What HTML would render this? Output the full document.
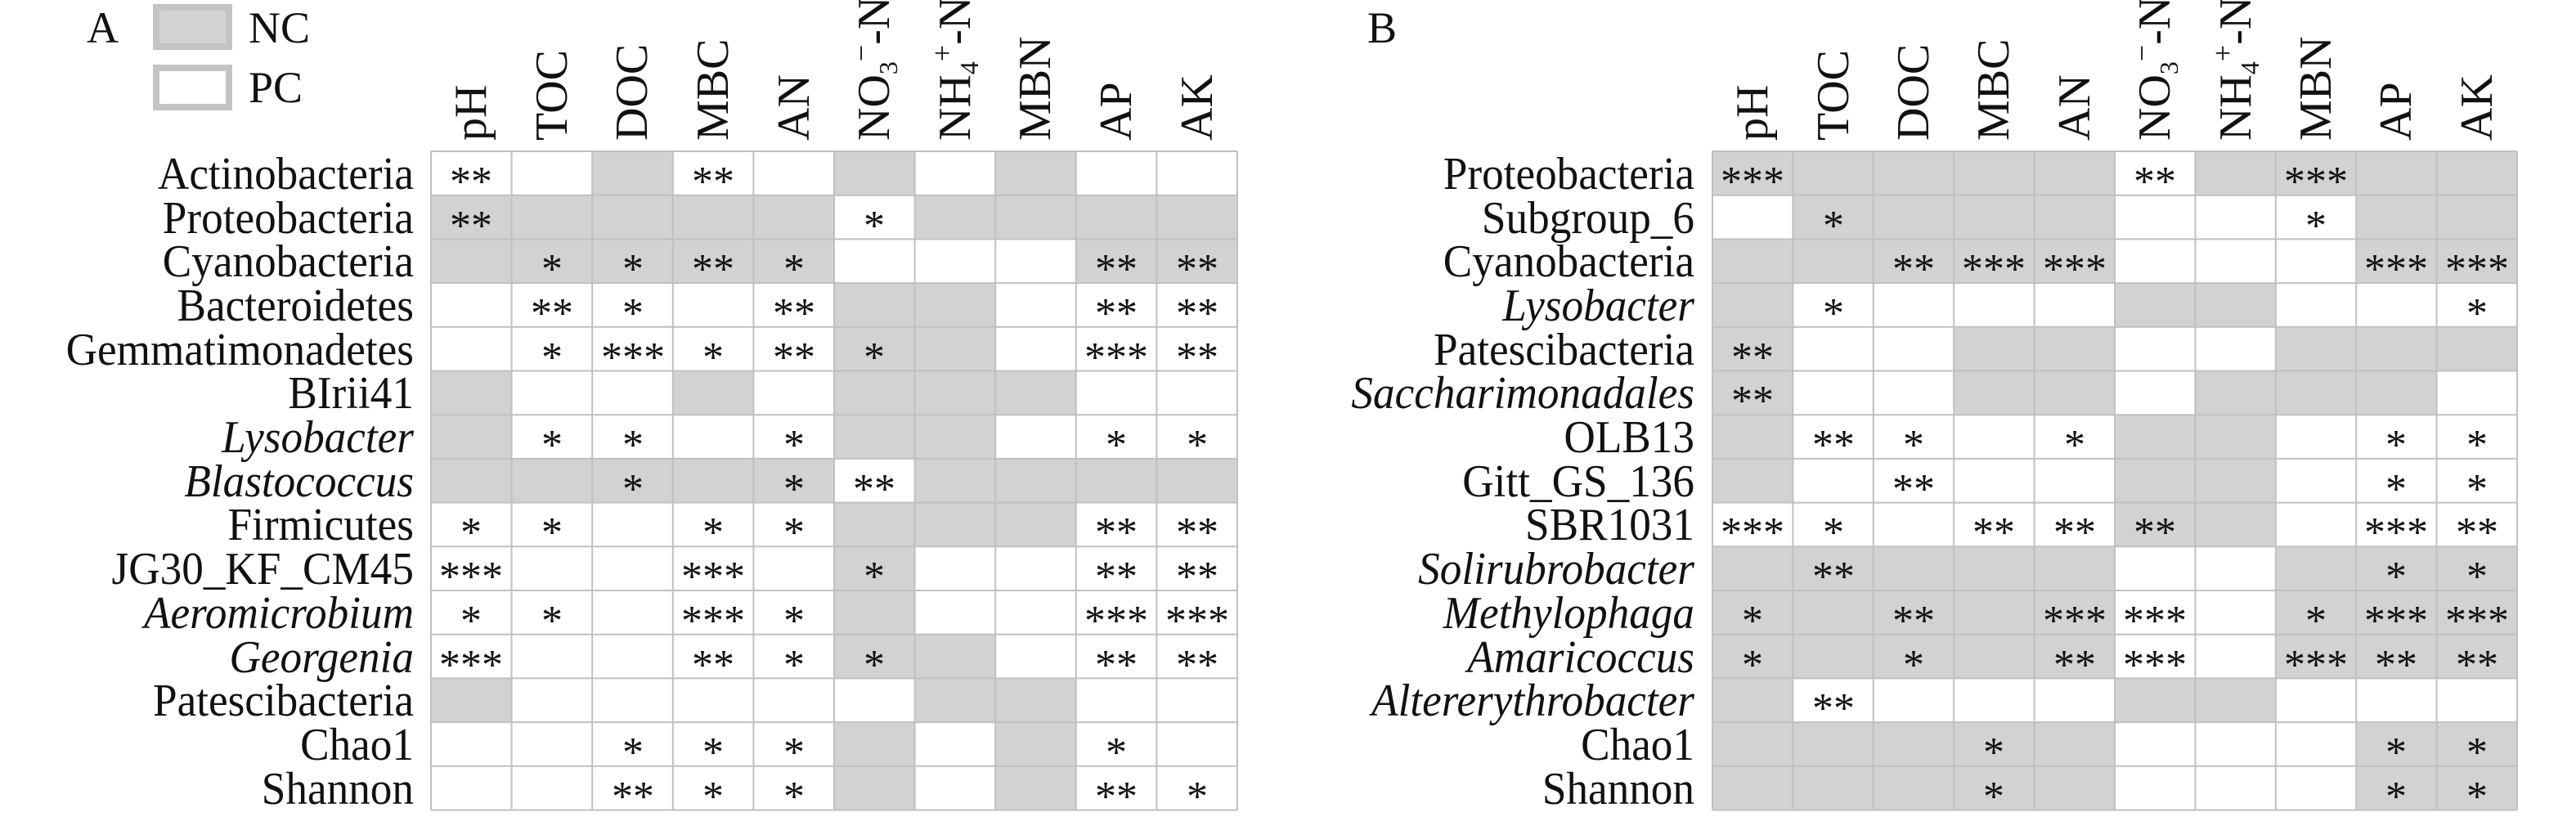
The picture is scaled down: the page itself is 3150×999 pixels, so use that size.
<!DOCTYPE html>
<html><head><meta charset="utf-8"><style>
html,body{margin:0;padding:0;background:#fff;}
svg{display:block;}
text{font-family:"Liberation Serif",serif;fill:#111;}
.lab{font-size:56px;text-anchor:end;}
.st{font-size:52px;text-anchor:middle;}
.hd{font-size:56px;}
.it{font-style:italic;}
.lg{font-size:54px;}
</style></head><body>
<svg width="3150" height="999" viewBox="0 0 3150 999" xmlns="http://www.w3.org/2000/svg">
<rect width="3150" height="999" fill="#fff"/>
<!-- Legend A -->
<text class="lg" x="106" y="52">A</text>
<rect x="191" y="9" width="89" height="48" fill="#d2d2d2" stroke="#c4c4c4" stroke-width="8"/>
<rect x="191" y="83" width="89" height="48" fill="#fff" stroke="#c4c4c4" stroke-width="8"/>
<text class="lg" x="304" y="52">NC</text>
<text class="lg" x="304" y="125">PC</text>
<text class="lg" x="1672" y="52">B</text>

<!-- Panel A cells -->
<g transform="translate(527,185) scale(98.6,53.7)" fill="#d2d2d2">
<rect x="2" y="0" width="1" height="1"/><rect x="5" y="0" width="1" height="1"/><rect x="7" y="0" width="1" height="1"/>
<rect x="0" y="1" width="5" height="1"/><rect x="6" y="1" width="4" height="1"/>
<rect x="0" y="2" width="5" height="1"/><rect x="8" y="2" width="2" height="1"/>
<rect x="5" y="3" width="2" height="2"/>
<rect x="0" y="5" width="1" height="1"/><rect x="3" y="5" width="1" height="1"/><rect x="5" y="5" width="3" height="1"/>
<rect x="0" y="6" width="1" height="1"/><rect x="5" y="6" width="2" height="1"/>
<rect x="0" y="7" width="5" height="1"/><rect x="6" y="7" width="4" height="1"/>
<rect x="5" y="8" width="3" height="1"/>
<rect x="5" y="9" width="1" height="2"/>
<rect x="5" y="11" width="2" height="1"/>
<rect x="0" y="12" width="1" height="1"/><rect x="6" y="12" width="2" height="1"/>
<rect x="5" y="13" width="1" height="2"/><rect x="7" y="13" width="1" height="2"/>
<g stroke="#c0c0c0" stroke-width="2" fill="none">
<path vector-effect="non-scaling-stroke" d="M0 0V15M1 0V15M2 0V15M3 0V15M4 0V15M5 0V15M6 0V15M7 0V15M8 0V15M9 0V15M10 0V15M0 0H10M0 1H10M0 2H10M0 3H10M0 4H10M0 5H10M0 6H10M0 7H10M0 8H10M0 9H10M0 10H10M0 11H10M0 12H10M0 13H10M0 14H10M0 15H10"/>
</g>
</g>

<!-- Panel B cells -->
<g transform="translate(2094,185) scale(98.4,53.7)" fill="#d2d2d2">
<rect x="0" y="0" width="5" height="1"/><rect x="6" y="0" width="4" height="1"/>
<rect x="1" y="1" width="4" height="1"/><rect x="8" y="1" width="2" height="1"/>
<rect x="0" y="2" width="5" height="1"/><rect x="8" y="2" width="2" height="1"/>
<rect x="0" y="3" width="1" height="1"/><rect x="5" y="3" width="2" height="1"/>
<rect x="0" y="4" width="1" height="1"/><rect x="3" y="4" width="2" height="1"/><rect x="7" y="4" width="3" height="1"/>
<rect x="0" y="5" width="1" height="1"/><rect x="3" y="5" width="2" height="1"/><rect x="6" y="5" width="3" height="1"/>
<rect x="0" y="6" width="1" height="2"/><rect x="5" y="6" width="2" height="2"/>
<rect x="5" y="8" width="2" height="1"/>
<rect x="0" y="9" width="5" height="3"/><rect x="7" y="9" width="3" height="3"/>
<rect x="0" y="12" width="1" height="1"/><rect x="5" y="12" width="2" height="1"/>
<rect x="0" y="13" width="5" height="2"/><rect x="8" y="13" width="2" height="2"/>
<g stroke="#c0c0c0" stroke-width="2" fill="none">
<path vector-effect="non-scaling-stroke" d="M0 0V15M1 0V15M2 0V15M3 0V15M4 0V15M5 0V15M6 0V15M7 0V15M8 0V15M9 0V15M10 0V15M0 0H10M0 1H10M0 2H10M0 3H10M0 4H10M0 5H10M0 6H10M0 7H10M0 8H10M0 9H10M0 10H10M0 11H10M0 12H10M0 13H10M0 14H10M0 15H10"/>
</g>
</g>

<!-- Headers A -->
<text class="hd" transform="translate(594,172) rotate(-90)">pH</text>
<text class="hd" transform="translate(693,172) rotate(-90)">TOC</text>
<text class="hd" transform="translate(791,172) rotate(-90)">DOC</text>
<text class="hd" transform="translate(890,172) rotate(-90)">MBC</text>
<text class="hd" transform="translate(989,172) rotate(-90)">AN</text>
<text class="hd" transform="translate(1087,172) rotate(-90)">NO<tspan dy="10" style="font-size:32px">3</tspan><tspan dy="-32" style="font-size:36px">−</tspan><tspan dy="22">-N</tspan></text>
<text class="hd" transform="translate(1186,172) rotate(-90)">NH<tspan dy="10" style="font-size:32px">4</tspan><tspan dy="-32" style="font-size:36px">+</tspan><tspan dy="22">-N</tspan></text>
<text class="hd" transform="translate(1284,172) rotate(-90)">MBN</text>
<text class="hd" transform="translate(1383,172) rotate(-90)">AP</text>
<text class="hd" transform="translate(1482,172) rotate(-90)">AK</text>
<!-- Headers B -->
<text class="hd" transform="translate(2161,172) rotate(-90)">pH</text>
<text class="hd" transform="translate(2260,172) rotate(-90)">TOC</text>
<text class="hd" transform="translate(2358,172) rotate(-90)">DOC</text>
<text class="hd" transform="translate(2456,172) rotate(-90)">MBC</text>
<text class="hd" transform="translate(2555,172) rotate(-90)">AN</text>
<text class="hd" transform="translate(2653,172) rotate(-90)">NO<tspan dy="10" style="font-size:32px">3</tspan><tspan dy="-32" style="font-size:36px">−</tspan><tspan dy="22">-N</tspan></text>
<text class="hd" transform="translate(2752,172) rotate(-90)">NH<tspan dy="10" style="font-size:32px">4</tspan><tspan dy="-32" style="font-size:36px">+</tspan><tspan dy="22">-N</tspan></text>
<text class="hd" transform="translate(2850,172) rotate(-90)">MBN</text>
<text class="hd" transform="translate(2948,172) rotate(-90)">AP</text>
<text class="hd" transform="translate(3047,172) rotate(-90)">AK</text>

<!-- Row labels A -->
<g transform="translate(506,0) scale(0.95,1) translate(-506,0)">
<text class="lab" x="506" y="231">Actinobacteria</text>
<text class="lab" x="506" y="285">Proteobacteria</text>
<text class="lab" x="506" y="338">Cyanobacteria</text>
<text class="lab" x="506" y="392">Bacteroidetes</text>
<text class="lab" x="506" y="446">Gemmatimonadetes</text>
<text class="lab" x="506" y="499">BIrii41</text>
<text class="lab it" x="506" y="553">Lysobacter</text>
<text class="lab it" x="506" y="607">Blastococcus</text>
<text class="lab" x="506" y="660">Firmicutes</text>
<text class="lab" x="506" y="714">JG30_KF_CM45</text>
<text class="lab it" x="506" y="768">Aeromicrobium</text>
<text class="lab it" x="506" y="822">Georgenia</text>
<text class="lab" x="506" y="875">Patescibacteria</text>
<text class="lab" x="506" y="929">Chao1</text>
<text class="lab" x="506" y="983">Shannon</text>
</g>

<!-- Row labels B -->
<g transform="translate(2072,0) scale(0.95,1) translate(-2072,0)">
<text class="lab" x="2072" y="231">Proteobacteria</text>
<text class="lab" x="2072" y="285">Subgroup_6</text>
<text class="lab" x="2072" y="338">Cyanobacteria</text>
<text class="lab it" x="2072" y="392">Lysobacter</text>
<text class="lab" x="2072" y="446">Patescibacteria</text>
<text class="lab it" x="2072" y="499">Saccharimonadales</text>
<text class="lab" x="2072" y="553">OLB13</text>
<text class="lab" x="2072" y="607">Gitt_GS_136</text>
<text class="lab" x="2072" y="660">SBR1031</text>
<text class="lab it" x="2072" y="714">Solirubrobacter</text>
<text class="lab it" x="2072" y="768">Methylophaga</text>
<text class="lab it" x="2072" y="822">Amaricoccus</text>
<text class="lab it" x="2072" y="875">Altererythrobacter</text>
<text class="lab" x="2072" y="929">Chao1</text>
<text class="lab" x="2072" y="983">Shannon</text>
</g>

<!-- Stars A -->
<g>
<text class="st" x="576" y="239">**</text><text class="st" x="872" y="239">**</text>
<text class="st" x="576" y="293">**</text><text class="st" x="1069" y="293">*</text>
<text class="st" x="675" y="346">*</text><text class="st" x="774" y="346">*</text><text class="st" x="872" y="346">**</text><text class="st" x="971" y="346">*</text><text class="st" x="1365" y="346">**</text><text class="st" x="1464" y="346">**</text>
<text class="st" x="675" y="400">**</text><text class="st" x="774" y="400">*</text><text class="st" x="971" y="400">**</text><text class="st" x="1365" y="400">**</text><text class="st" x="1464" y="400">**</text>
<text class="st" x="675" y="454">*</text><text class="st" x="774" y="454">***</text><text class="st" x="872" y="454">*</text><text class="st" x="971" y="454">**</text><text class="st" x="1069" y="454">*</text><text class="st" x="1365" y="454">***</text><text class="st" x="1464" y="454">**</text>
<text class="st" x="675" y="561">*</text><text class="st" x="774" y="561">*</text><text class="st" x="971" y="561">*</text><text class="st" x="1365" y="561">*</text><text class="st" x="1464" y="561">*</text>
<text class="st" x="774" y="615">*</text><text class="st" x="971" y="615">*</text><text class="st" x="1069" y="615">**</text>
<text class="st" x="576" y="668">*</text><text class="st" x="675" y="668">*</text><text class="st" x="872" y="668">*</text><text class="st" x="971" y="668">*</text><text class="st" x="1365" y="668">**</text><text class="st" x="1464" y="668">**</text>
<text class="st" x="576" y="722">***</text><text class="st" x="872" y="722">***</text><text class="st" x="1069" y="722">*</text><text class="st" x="1365" y="722">**</text><text class="st" x="1464" y="722">**</text>
<text class="st" x="576" y="776">*</text><text class="st" x="675" y="776">*</text><text class="st" x="872" y="776">***</text><text class="st" x="971" y="776">*</text><text class="st" x="1365" y="776">***</text><text class="st" x="1464" y="776">***</text>
<text class="st" x="576" y="830">***</text><text class="st" x="872" y="830">**</text><text class="st" x="971" y="830">*</text><text class="st" x="1069" y="830">*</text><text class="st" x="1365" y="830">**</text><text class="st" x="1464" y="830">**</text>
<text class="st" x="774" y="937">*</text><text class="st" x="872" y="937">*</text><text class="st" x="971" y="937">*</text><text class="st" x="1365" y="937">*</text>
<text class="st" x="774" y="991">**</text><text class="st" x="872" y="991">*</text><text class="st" x="971" y="991">*</text><text class="st" x="1365" y="991">**</text><text class="st" x="1464" y="991">*</text>
</g>

<!-- Stars B -->
<g>
<text class="st" x="2143" y="239">***</text><text class="st" x="2635" y="239">**</text><text class="st" x="2832" y="239">***</text>
<text class="st" x="2242" y="293">*</text><text class="st" x="2832" y="293">*</text>
<text class="st" x="2340" y="346">**</text><text class="st" x="2438" y="346">***</text><text class="st" x="2537" y="346">***</text><text class="st" x="2930" y="346">***</text><text class="st" x="3029" y="346">***</text>
<text class="st" x="2242" y="400">*</text><text class="st" x="3029" y="400">*</text>
<text class="st" x="2143" y="454">**</text>
<text class="st" x="2143" y="507">**</text>
<text class="st" x="2242" y="561">**</text><text class="st" x="2340" y="561">*</text><text class="st" x="2537" y="561">*</text><text class="st" x="2930" y="561">*</text><text class="st" x="3029" y="561">*</text>
<text class="st" x="2340" y="615">**</text><text class="st" x="2930" y="615">*</text><text class="st" x="3029" y="615">*</text>
<text class="st" x="2143" y="668">***</text><text class="st" x="2242" y="668">*</text><text class="st" x="2438" y="668">**</text><text class="st" x="2537" y="668">**</text><text class="st" x="2635" y="668">**</text><text class="st" x="2930" y="668">***</text><text class="st" x="3029" y="668">**</text>
<text class="st" x="2242" y="722">**</text><text class="st" x="2930" y="722">*</text><text class="st" x="3029" y="722">*</text>
<text class="st" x="2143" y="776">*</text><text class="st" x="2340" y="776">**</text><text class="st" x="2537" y="776">***</text><text class="st" x="2635" y="776">***</text><text class="st" x="2832" y="776">*</text><text class="st" x="2930" y="776">***</text><text class="st" x="3029" y="776">***</text>
<text class="st" x="2143" y="830">*</text><text class="st" x="2340" y="830">*</text><text class="st" x="2537" y="830">**</text><text class="st" x="2635" y="830">***</text><text class="st" x="2832" y="830">***</text><text class="st" x="2930" y="830">**</text><text class="st" x="3029" y="830">**</text>
<text class="st" x="2242" y="883">**</text>
<text class="st" x="2438" y="937">*</text><text class="st" x="2930" y="937">*</text><text class="st" x="3029" y="937">*</text>
<text class="st" x="2438" y="991">*</text><text class="st" x="2930" y="991">*</text><text class="st" x="3029" y="991">*</text>
</g>
</svg>
</body></html>
